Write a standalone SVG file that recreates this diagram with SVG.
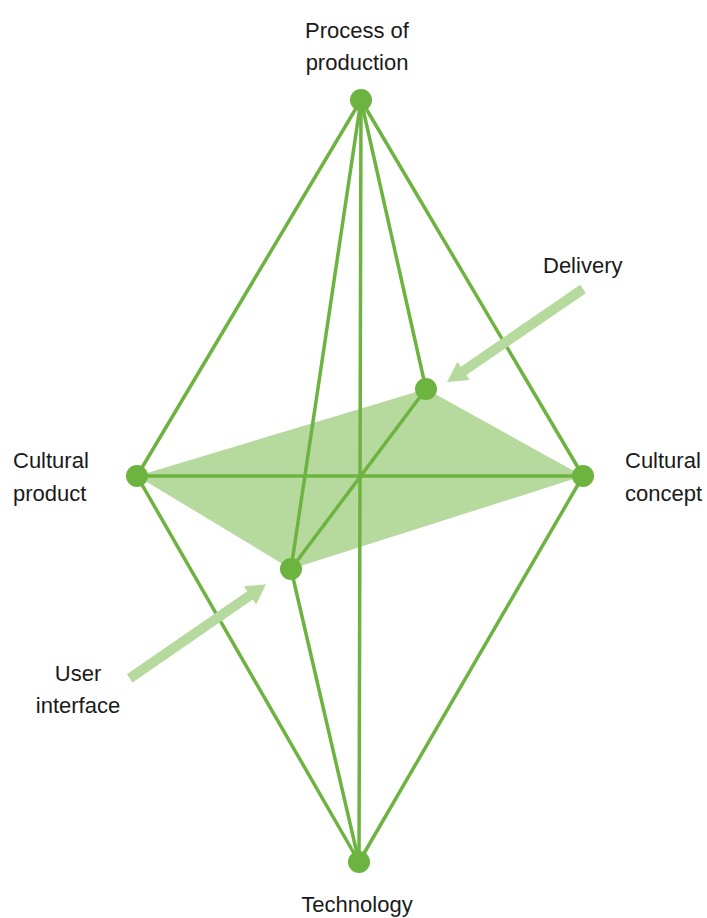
<svg xmlns="http://www.w3.org/2000/svg" width="707" height="918" viewBox="0 0 707 918">
<style>
.edge{stroke:#6db33f;stroke-width:3.5;fill:none;stroke-linecap:round}
.node{fill:#6db33f}
.face{fill:#b6da9e}
.pointer{fill:#b6da9e}
.label{font-family:"Liberation Sans",Arial,sans-serif;font-size:22px;fill:#1a1a1a}
.mid{text-anchor:middle}
</style>
<rect width="707" height="918" fill="#ffffff"/>
<polygon id="plane" class="face" points="137,476 426,389 583,476 291,569"/>
<g id="connectors">
<line class="edge" x1="361" y1="100" x2="137" y2="476"/>
<line class="edge" x1="361" y1="100" x2="583" y2="476"/>
<line class="edge" x1="361" y1="100" x2="359" y2="862"/>
<line class="edge" x1="361" y1="100" x2="426" y2="389"/>
<line class="edge" x1="361" y1="100" x2="291" y2="569"/>
<line class="edge" x1="359" y1="862" x2="137" y2="476"/>
<line class="edge" x1="359" y1="862" x2="583" y2="476"/>
<line class="edge" x1="359" y1="862" x2="291" y2="569"/>
<line class="edge" x1="137" y1="476" x2="583" y2="476"/>
<line class="edge" x1="426" y1="389" x2="291" y2="569"/>
<polygon class="pointer" points="585.8,293.2 466.4,375.1 469.7,380.1 447,382 457.5,361.7 460.8,366.7 580.2,284.8"/>
<polygon class="pointer" points="132.5,682.4 252.8,599.5 256.2,604.5 266,584.3 243.8,586.3 247.2,591.3 126.9,674.2"/>
</g>
<g id="n-process">
<circle class="node" cx="361" cy="100" r="11"/>
<text class="label mid" x="357" y="38">Process of</text>
<text class="label mid" x="357" y="70">production</text>
</g>
<g id="n-technology">
<circle class="node" cx="359" cy="862" r="11"/>
<text class="label mid" x="357" y="912">Technology</text>
</g>
<g id="n-product">
<circle class="node" cx="137" cy="476" r="11"/>
<text class="label" x="13" y="468">Cultural</text>
<text class="label" x="13" y="501">product</text>
</g>
<g id="n-concept">
<circle class="node" cx="583" cy="476" r="11"/>
<text class="label" x="625" y="468">Cultural</text>
<text class="label" x="625" y="501">concept</text>
</g>
<g id="n-delivery">
<circle class="node" cx="426" cy="389" r="11"/>
<text class="label" x="543" y="273">Delivery</text>
</g>
<g id="n-ui">
<circle class="node" cx="291" cy="569" r="11"/>
<text class="label mid" x="78" y="681">User</text>
<text class="label mid" x="78" y="713">interface</text>
</g>
</svg>
